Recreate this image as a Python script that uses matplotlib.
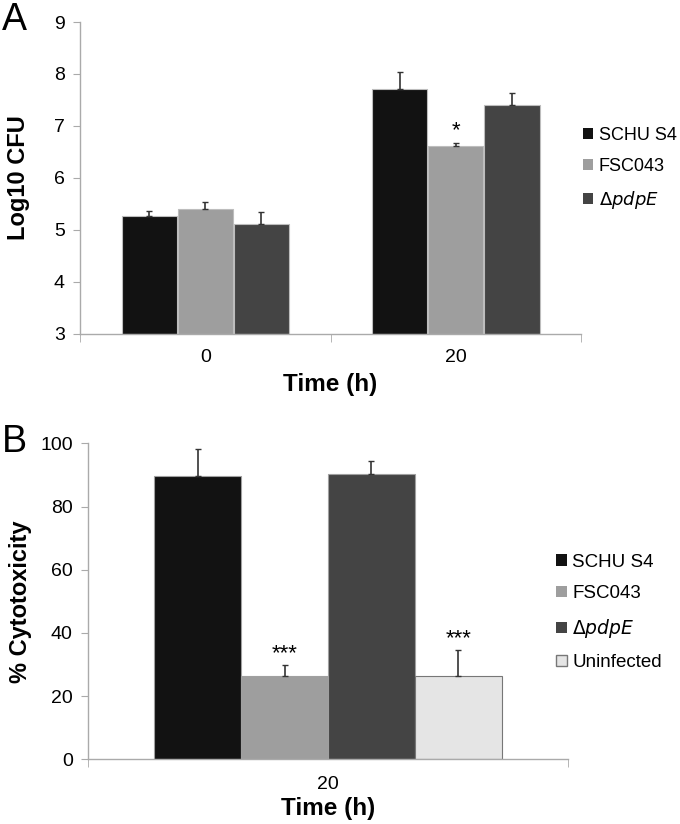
import matplotlib
matplotlib.use("Agg")
import matplotlib.pyplot as plt
from matplotlib.patches import Patch
import numpy as np

plt.rcParams['font.family'] = ['Liberation Sans', 'DejaVu Sans']

# ---- Panel A data ----
timesA = ["0", "20"]
strainsA = ["SCHU S4", "FSC043", "pdpE"]
cfu_schu = [5.26, 7.71]
cfu_fsc = [5.40, 6.62]
cfu_pdpe = [5.12, 7.41]
err_schu = [0.11, 0.32]
err_fsc = [0.14, 0.06]
err_pdpe = [0.23, 0.23]
starsA = ["", "*"]  # on FSC043

# ---- Panel B data ----
timesB = ["20"]
strainsB = ["SCHU S4", "FSC043", "pdpE", "Uninfected"]
cyto = [89.6, 26.5, 90.4, 26.5]
cyto_err = [8.5, 3.2, 3.9, 8.0]
starsB = ["", "***", "", "***"]

colors = ["#121212", "#9e9e9e", "#444444", "#e5e5e5"]
legend_labels = ["SCHU S4", "FSC043", r"$\Delta$$\it{pdpE}$", "Uninfected"]

fig = plt.figure(figsize=(6.8, 8.24), dpi=100)
axA = fig.add_axes([0.1176, 0.5947, 0.737, 0.3786])
axB = fig.add_axes([0.1294, 0.0785, 0.706, 0.3835])

spine_c = "#aaaaaa"

def style(ax):
    for s in ["top", "right"]:
        ax.spines[s].set_visible(False)
    for s in ["left", "bottom"]:
        ax.spines[s].set_color(spine_c)
        ax.spines[s].set_linewidth(1.0)
    ax.tick_params(axis='y', direction='out', length=5, color=spine_c, labelsize=14, pad=6)

# Panel A
style(axA)
xA = np.arange(len(timesA))
wA = 0.22
seriesA = [cfu_schu, cfu_fsc, cfu_pdpe]
errsA = [err_schu, err_fsc, err_pdpe]
for i, (vals, errs) in enumerate(zip(seriesA, errsA)):
    pos = xA + (i - 1) * 0.224
    axA.bar(pos, np.array(vals) - 3, width=wA, bottom=3, color=colors[i],
            edgecolor="#bdbdbd", linewidth=0.8, zorder=2)
    axA.errorbar(pos, vals, yerr=[np.zeros(len(errs)), errs], fmt='none',
                 ecolor="#333333", elinewidth=1.2, capsize=2.5, capthick=1.0, zorder=3)
for j, s in enumerate(starsA):
    if s:
        axA.annotate(s, (xA[j], cfu_fsc[j] + err_fsc[j]), xytext=(0, 1),
                     textcoords='offset points', ha='center', va='bottom', fontsize=16)
axA.set_ylim(3, 9)
axA.set_yticks(np.arange(3, 10, 1))
axA.set_xlim(-0.5, 1.5)
axA.set_xticks(xA)
axA.set_xticklabels(timesA)
axA.tick_params(axis='x', which='major', length=0, labelsize=14, pad=11)
axA.set_xticks([-0.5, 0.5, 1.5], minor=True)
axA.tick_params(axis='x', which='minor', direction='out', length=6, color=spine_c)
axA.set_ylabel("Log10 CFU", fontsize=17, fontweight='bold')
axA.yaxis.set_label_coords(-0.10, 0.5)
axA.set_xlabel("Time (h)", fontsize=17.5, fontweight='bold')
axA.xaxis.set_label_coords(0.5, -0.125)

handlesA = [Patch(facecolor=colors[i], edgecolor='none') for i in range(3)]
fig.legend(handlesA, legend_labels[:3], loc='center left', bbox_to_anchor=(0.858, 0.795),
           frameon=False, fontsize=13, handlelength=0.55, handleheight=0.55,
           handletextpad=0.3, labelspacing=0.78, borderaxespad=0, borderpad=0)

# Panel B
style(axB)
wB = 0.181
for i in range(len(strainsB)):
    pos = (i - 1.5) * wB
    axB.bar([pos], [cyto[i]], width=wB, color=colors[i],
            edgecolor="#a0a0a0" if i < 3 else "#777777", linewidth=0.8, zorder=2)
    axB.errorbar([pos], [cyto[i]], yerr=[[0], [cyto_err[i]]], fmt='none',
                 ecolor="#333333", elinewidth=1.2, capsize=2.5, capthick=1.0, zorder=3)
    if starsB[i]:
        axB.annotate(starsB[i], (pos, cyto[i] + cyto_err[i]), xytext=(0, 1),
                     textcoords='offset points', ha='center', va='bottom', fontsize=16)
axB.set_ylim(0, 100)
axB.set_yticks(np.arange(0, 101, 20))
axB.set_xlim(-0.5, 0.5)
axB.set_xticks([0])
axB.set_xticklabels(timesB)
axB.tick_params(axis='x', which='major', length=0, labelsize=14, pad=12)
axB.set_xticks([-0.5, 0.5], minor=True)
axB.tick_params(axis='x', which='minor', direction='out', length=6, color=spine_c)
axB.set_ylabel("% Cytotoxicity", fontsize=17, fontweight='bold')
axB.yaxis.set_label_coords(-0.117, 0.5)
axB.set_xlabel("Time (h)", fontsize=17.5, fontweight='bold')
axB.xaxis.set_label_coords(0.5, -0.118)

handlesB = [Patch(facecolor=colors[i], edgecolor='none' if i < 3 else '#777777') for i in range(4)]
fig.legend(handlesB, legend_labels, loc='center left', bbox_to_anchor=(0.818, 0.2567),
           frameon=False, fontsize=13.5, handlelength=0.55, handleheight=0.55,
           handletextpad=0.3, labelspacing=0.78, borderaxespad=0, borderpad=0)

fig.text(0.003, 0.997, "A", fontsize=27, ha='left', va='top')
fig.text(0.003, 0.486, "B", fontsize=27, ha='left', va='top')

fig.savefig("out.png", dpi=100)
